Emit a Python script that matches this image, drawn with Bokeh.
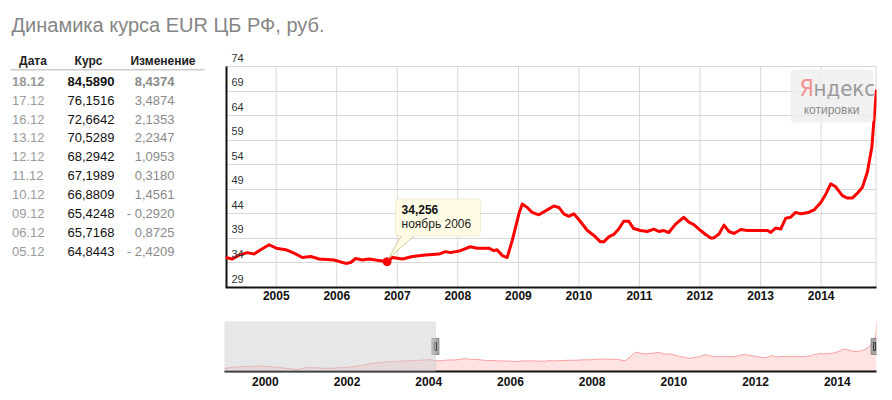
import pandas as pd
from bokeh.plotting import figure
from bokeh.models import (Range1d, FixedTicker, DatetimeTickFormatter, Label, BoxAnnotation, Spacer)
from bokeh.layouts import column, row
from bokeh.embed import file_html
from bokeh.resources import INLINE
from bokeh.core.properties import value

FONT = "Liberation Sans"

title_text = "Динамика курса EUR ЦБ РФ, руб."

# ---- table (last quotes) ----
table_headers = ["Дата", "Курс", "Изменение"]
table_dates = ["18.12", "17.12", "16.12", "13.12", "12.12", "11.12", "10.12", "09.12", "06.12", "05.12"]
table_rates = [84.5890, 76.1516, 72.6642, 70.5289, 68.2942, 67.1989, 66.8809, 65.4248, 65.7168, 64.8443]
table_changes = [8.4374, 3.4874, 2.1353, 2.2347, 1.0953, 0.3180, 1.4561, -0.2920, 0.8725, -2.4209]

# ---- main series ----
main_dates = [
    "2004-03-01", "2004-04-11", "2004-05-22", "2004-07-11", "2004-08-20", "2004-09-29", "2004-11-19",
    "2005-01-01", "2005-02-27", "2005-04-18", "2005-06-08", "2005-07-28", "2005-09-17", "2005-12-16",
    "2006-02-24", "2006-03-26", "2006-04-25", "2006-06-05", "2006-07-15", "2006-08-24", "2006-11-01",
    "2006-12-03", "2007-02-02", "2007-04-03", "2007-06-20", "2007-09-10", "2007-10-19", "2007-11-18",
    "2008-01-17", "2008-03-17", "2008-04-26", "2008-07-06", "2008-08-05", "2008-08-25", "2008-09-25",
    "2008-10-25", "2008-11-24", "2009-01-04", "2009-01-24", "2009-02-23", "2009-03-25", "2009-05-04",
    "2009-06-24", "2009-08-03", "2009-09-02", "2009-10-02", "2009-11-01", "2009-12-01", "2010-01-01",
    "2010-02-21", "2010-04-01", "2010-05-11", "2010-05-31", "2010-06-30", "2010-07-30", "2010-08-29",
    "2010-09-28", "2010-10-28", "2010-11-27", "2011-01-08", "2011-02-17", "2011-03-29", "2011-04-28",
    "2011-05-28", "2011-06-27", "2011-08-07", "2011-09-26", "2011-10-26", "2011-11-25", "2012-01-05",
    "2012-02-04", "2012-03-06", "2012-03-25", "2012-04-25", "2012-05-25", "2012-06-24", "2012-07-24",
    "2012-09-03", "2012-10-13", "2013-02-12", "2013-03-03", "2013-04-02", "2013-05-02", "2013-06-01",
    "2013-07-01", "2013-07-31", "2013-08-31", "2013-10-10", "2013-11-19", "2013-12-30", "2014-01-29",
    "2014-02-28", "2014-03-30", "2014-05-09", "2014-06-08", "2014-07-08", "2014-08-08", "2014-09-07",
    "2014-10-07", "2014-11-03", "2014-11-17", "2014-12-01",
]
main_values = [
    35.1, 34.8, 35.6, 36.1, 35.8, 36.7, 37.7,
    37.0, 36.7, 36.0, 35.1, 35.3, 34.8, 34.6,
    33.9, 34.1, 34.9, 34.6, 34.8, 34.6, 34.256,
    35.1, 34.8, 35.3, 35.6, 35.8, 36.3, 36.1,
    36.5, 37.3, 37.0, 37.0, 36.5, 36.7, 35.5,
    35.1, 38.5, 44.0, 46.0, 45.3, 44.3, 43.8,
    44.8, 45.6, 45.3, 44.0, 43.5, 44.0, 42.8,
    40.6, 39.6, 38.3, 38.3, 39.3, 39.8, 40.9,
    42.5, 42.5, 41.0, 40.6, 40.4, 40.9, 40.4,
    40.6, 40.2, 41.9, 43.3, 42.3, 41.8, 40.6,
    39.8, 39.1, 39.1, 39.9, 41.7, 40.4, 40.0,
    40.8, 40.6, 40.6, 40.2, 41.1, 40.9, 43.1,
    43.3, 44.3, 44.0, 44.2, 44.8, 46.3, 48.0,
    50.1, 49.5, 47.7, 47.2, 47.2, 48.2, 49.4,
    52.5, 57.6, 63.7, 69.3,
]

# ---- navigator: earlier history ----
nav_early_dates = ["1999-01-01", "1999-03-20", "1999-07-01", "1999-12-15", "2000-04-15", "2000-10-12",
                   "2001-01-08", "2001-07-05", "2002-01-01", "2002-05-01", "2002-07-26", "2003-01-22",
                   "2003-04-22", "2003-08-15", "2004-01-15"]
nav_early_values = [25.0, 26.5, 27.5, 28.0, 26.5, 23.5, 26.5, 25.0, 26.5, 28.5, 31.0, 34.0, 34.5, 35.0, 36.5]

y_ticks = [29, 34, 39, 44, 49, 54, 59, 64, 69, 74]
main_years = [2005, 2006, 2007, 2008, 2009, 2010, 2011, 2012, 2013, 2014]
nav_years = [2000, 2002, 2004, 2006, 2008, 2010, 2012, 2014]

tooltip_date = "2006-11-01"
tooltip_month = "ноябрь 2006"

# ------------------------------------------------------------------
mx = pd.to_datetime(main_dates)
x0, x1 = mx[0], mx[-1]
tt_i = main_dates.index(tooltip_date)
tt_x, tt_v = mx[tt_i], main_values[tt_i]


def ms(ts):
    return ts.value / 1e6


def year_ms(y):
    return ms(pd.Timestamp(year=y, month=1, day=1))


fmt = DatetimeTickFormatter(milliseconds="%Y", seconds="%Y", minsec="%Y", minutes="%Y", hourmin="%Y",
                            hours="%Y", days="%Y", months="%Y", years="%Y")

# page geometry (the page is drawn from its top-left corner)
TOP_H = 45                      # title strip
MAIN_H = 272                    # main row
NAV_H = 400 - TOP_H - MAIN_H    # navigator row
LEFT_W = 225                    # table column
FL, FT, FR, FB = 225.0, 51.0, 876.0, 287.0   # main frame edges on the page
GRID_TOP_PAGE = 66.0            # where the top tick value sits

px_per_unit = (FB - GRID_TOP_PAGE) / (y_ticks[-1] - y_ticks[0])
y_top = y_ticks[0] + (FB - FT) / px_per_unit


def sx(px):
    return px - FL


def sy(py):
    return FB - py


# ---- title strip ----
t = figure(width=892, height=TOP_H, x_range=Range1d(0, 892), y_range=Range1d(TOP_H, 0),
           x_axis_location=None, y_axis_location=None,
           min_border=0, output_backend="svg", toolbar_location=None)
t.grid.visible = False
t.outline_line_color = None
t.text(x=[11], y=[24], text=[title_text], text_font=value(FONT), text_font_size="20px",
       text_color="#858585", text_align="left", text_baseline="middle")

# ---- table column ----
tb = figure(width=LEFT_W, height=MAIN_H, x_range=Range1d(0, LEFT_W), y_range=Range1d(TOP_H + MAIN_H, TOP_H),
            x_axis_location=None, y_axis_location=None,
            min_border=0, output_backend="svg", toolbar_location=None)
tb.grid.visible = False
tb.outline_line_color = None
tb.text(x=[32.5, 88, 162.5], y=[56, 56, 56], text=table_headers, text_font=value(FONT),
        text_font_size="12px", text_font_style="bold", text_color="#222222",
        text_align="center", text_baseline="middle")
tb.segment(x0=[10], y0=[66], x1=[204], y1=[66], line_color="#cccccc", line_width=1.5)


def fmt_num(v):
    s = f"{abs(v):.4f}".replace(".", ",")
    return ("- " + s) if v < 0 else s


row_y = [79.2 + 21.8 * i for i in range(len(table_dates))]
for i in range(len(table_dates)):
    style = "bold" if i == 0 else "normal"
    tb.text(x=[11.5], y=[row_y[i]], text=[table_dates[i]], text_font=value(FONT), text_font_size="13px",
            text_font_style=style, text_color="#9a9a9a", text_align="left", text_baseline="middle")
    tb.text(x=[114], y=[row_y[i]], text=[fmt_num(table_rates[i])], text_font=value(FONT), text_font_size="13px",
            text_font_style=style, text_color="#111111", text_align="right", text_baseline="middle")
    tb.text(x=[174], y=[row_y[i]], text=[fmt_num(table_changes[i])], text_font=value(FONT), text_font_size="13px",
            text_font_style=style, text_color="#8a8a8a", text_align="right", text_baseline="middle")

# ---- main chart ----
p = figure(width=892 - LEFT_W, height=MAIN_H, x_axis_type="datetime",
           x_range=Range1d(x0, x1), y_range=Range1d(y_ticks[0], y_top),
           y_axis_location=None,
           min_border_left=0, min_border_right=int(892 - FR), min_border_top=int(FT - TOP_H),
           min_border_bottom=int(TOP_H + MAIN_H - FB),
           output_backend="svg", toolbar_location=None)
p.background_fill_color = "white"
p.border_fill_color = "white"
p.outline_line_color = None

p.xaxis.ticker = FixedTicker(ticks=[year_ms(y) for y in main_years])
p.xaxis.formatter = fmt
p.xaxis.major_tick_line_color = None
p.xaxis.minor_tick_line_color = None
p.xaxis.axis_line_color = "#111111"
p.xaxis.axis_line_width = 2
p.xaxis.major_label_standoff = -3
p.xaxis.major_label_text_font = FONT
p.xaxis.major_label_text_font_style = "bold"
p.xaxis.major_label_text_font_size = "12px"
p.xaxis.major_label_text_color = "#111111"

p.xgrid.visible = False
p.ygrid.ticker = FixedTicker(ticks=y_ticks)
p.ygrid.grid_line_color = "#d8d8d8"
p.ygrid.grid_line_width = 1
# vertical year grid lines, only between the lowest and highest tick values
yr_ms = [year_ms(y) for y in main_years]
p.segment(x0=yr_ms, y0=[y_ticks[0]] * len(yr_ms), x1=yr_ms, y1=[y_ticks[-1]] * len(yr_ms),
          line_color="#d8d8d8", line_width=1, level="underlay")

# plot border: right edge grey, left edge black
p.segment(x0=[x1], y0=[y_ticks[0]], x1=[x1], y1=[y_ticks[-1]], line_color="#d8d8d8", line_width=2)
p.segment(x0=[x0], y0=[y_ticks[0]], x1=[x0], y1=[y_ticks[-1]], line_color="#111111", line_width=4)

# y tick labels inside the plot, above their grid lines
for tv in y_ticks:
    p.add_layout(Label(x=ms(x0), y=tv, text=str(tv), x_offset=6, y_offset=9,
                       text_font=FONT, text_font_size="11px", text_color="#333333",
                       text_align="left", text_baseline="middle"))

# Yandex logo
p.add_layout(BoxAnnotation(left=sx(790), right=sx(873), top=sy(69), bottom=sy(122),
                           left_units="screen", right_units="screen", top_units="screen", bottom_units="screen",
                           fill_color="#eeeeee", fill_alpha=0.8, line_color=None, border_radius=4))
p.add_layout(Label(x=sx(799), y=sy(87.5), x_units="screen", y_units="screen", text="Я",
                   text_font="DejaVu Sans Condensed", text_font_size="23px", text_color="#f29494",
                   text_align="left", text_baseline="middle"))
p.add_layout(Label(x=sx(813), y=sy(87.5), x_units="screen", y_units="screen", text="ндекс",
                   text_font="DejaVu Sans Condensed", text_font_size="22px", text_color="#9a9a9a",
                   text_align="left", text_baseline="middle"))
p.add_layout(Label(x=sx(831), y=sy(109), x_units="screen", y_units="screen", text="котировки",
                   text_font=FONT, text_font_size="12px", text_color="#8a8a8a",
                   text_align="center", text_baseline="middle"))

# main series
p.line(mx, main_values, line_color="#ff0000", line_width=3, line_join="round")

# tooltip (box + pointer anchored on the highlighted point)
xpx = (ms(x1) - ms(x0)) / (FR - FL)   # ms per pixel
ypx = 1.0 / px_per_unit
tx = ms(tt_x)
psx = (tx - ms(x0)) / xpx
psy = (tt_v - y_ticks[0]) * px_per_unit
p.scatter([tt_x], [tt_v], size=8, color="#ff0000")
p.add_layout(BoxAnnotation(left=psx + 8.4, right=psx + 93.4, bottom=psy + 25.7, top=psy + 62.7,
                           left_units="screen", right_units="screen", top_units="screen", bottom_units="screen",
                           fill_color="#fffbe4", fill_alpha=1, line_color="#d6c79a", line_width=1,
                           border_radius=4))
p.patch([tx + 1.5 * xpx, tx + 14 * xpx, tx + 27 * xpx],
        [tt_v + 3.5 * ypx, tt_v + 26.6 * ypx, tt_v + 26.6 * ypx],
        fill_color="#fffbe4", line_color=None, level="overlay")
p.segment(x0=[tx + 1.5 * xpx, tx + 1.5 * xpx], y0=[tt_v + 3.5 * ypx, tt_v + 3.5 * ypx],
          x1=[tx + 14 * xpx, tx + 27 * xpx], y1=[tt_v + 25.7 * ypx, tt_v + 25.7 * ypx],
          line_color="#d6c79a", line_width=1, level="overlay")
p.add_layout(Label(x=tx, y=tt_v, x_offset=14.4, y_offset=52.5, text=f"{tt_v:.3f}".replace(".", ","),
                   text_font=FONT, text_font_size="12px", text_font_style="bold", text_color="#111111",
                   text_align="left", text_baseline="middle"))
p.add_layout(Label(x=tx, y=tt_v, x_offset=14.4, y_offset=37.5, text=tooltip_month,
                   text_font=FONT, text_font_size="12px", text_color="#222222",
                   text_align="left", text_baseline="middle"))

# ---- navigator ----
nav_x = list(pd.to_datetime(nav_early_dates)) + list(mx[:-1]) + \
        [pd.Timestamp(f"2014-{d[3:]}-{d[:2]}") for d in table_dates[::-1]]
nav_v = nav_early_values + main_values[:-1] + table_rates[::-1]
ny0, ny1 = 21, 86
NL, NT, NB = 224, 321, 371

n = figure(width=892 - NL, height=NAV_H, x_axis_type="datetime",
           x_range=Range1d(nav_x[0], nav_x[-1]), y_range=Range1d(ny0, ny1),
           y_axis_location=None,
           min_border_left=0, min_border_right=int(892 - FR), min_border_top=NT - (TOP_H + MAIN_H),
           min_border_bottom=400 - NB, output_backend="svg", toolbar_location=None)
n.outline_line_color = None
n.grid.visible = False
n.xaxis.ticker = FixedTicker(ticks=[year_ms(y) for y in nav_years])
n.xaxis.formatter = fmt
n.xaxis.major_tick_line_color = None
n.xaxis.minor_tick_line_color = None
n.xaxis.axis_line_color = "#111111"
n.xaxis.axis_line_width = 2
n.xaxis.major_label_standoff = -1
n.xaxis.major_label_text_font = FONT
n.xaxis.major_label_text_font_style = "bold"
n.xaxis.major_label_text_font_size = "12px"
n.xaxis.major_label_text_color = "#111111"

n.varea(x=nav_x, y1=ny0, y2=nav_v, fill_color="#ffe2e2", fill_alpha=1)
n.line(nav_x, nav_v, line_color="#f7a0a0", line_width=1)
n.add_layout(BoxAnnotation(left=ms(nav_x[0]), right=ms(x0), fill_color="#cfcfcf", fill_alpha=0.5,
                           line_color="#c0c0c0", line_width=1))
hy = (ny0 + ny1) / 2
n.rect(x=[x0, x1], y=[hy, hy], width=7, height=16, width_units="screen", height_units="screen",
       fill_color="#a4a4a4", line_color="#8c8c8c")
n.rect(x=[x0, x1], y=[hy, hy], width=2, height=8, width_units="screen", height_units="screen",
       fill_color="#a4a4a4", line_color="#333333", line_width=1)

layout = column(t, row(tb, p, spacing=0), row(Spacer(width=NL, height=NAV_H), n, spacing=0), spacing=0)
open("out.html", "w").write(file_html(layout, INLINE))
